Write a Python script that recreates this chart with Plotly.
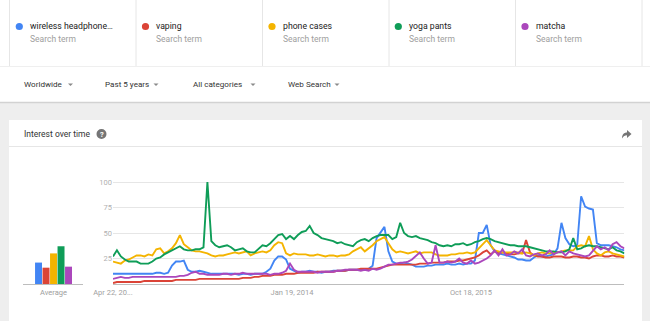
import plotly.graph_objects as go
import pandas as pd

W, H = 650, 321

# ---------------- data ----------------
TERMS = ["wireless headphone…", "vaping", "phone cases", "yoga pants", "matcha"]
COLORS = ["#4285f4", "#db4437", "#f4b400", "#0f9d58", "#ab47bc"]
DATES = pd.date_range("2012-04-22", periods=131, freq="14D")

wireless = [10, 10, 10, 10, 10, 10, 10, 10, 10, 10, 10, 11, 11, 10,
            11, 18, 22, 22, 23, 14,
            12, 12, 13, 12, 11, 10, 10, 10, 10, 10,
            10, 10, 9, 10, 10, 9, 10, 10, 10, 12,
            15, 23, 27, 27, 24, 15, 13, 11, 12, 12,
            13, 12, 12, 11, 12, 12, 13, 13, 13, 13,
            14, 14, 14, 14, 14, 15, 18, 45, 50, 56,
            32, 22, 20, 20, 21, 20, 19, 17, 17, 17,
            18, 18, 19, 19, 19, 20, 19, 19, 20, 19,
            20, 20, 23, 50, 50, 58, 38, 32, 30, 29,
            28, 27, 26, 24, 24, 23, 23, 26, 28, 27,
            27, 28, 29, 35, 60, 45, 39, 37, 38, 86,
            76, 74, 73, 40, 38, 38, 38, 37, 36, 34, 33]

vaping = [1, 2, 2, 2, 2, 2, 2, 2, 3, 3,
          3, 3, 3, 3, 3, 3, 4, 4, 4, 4,
          4, 4, 5, 5, 5, 5, 5, 5, 5, 5,
          5, 5, 5, 6, 6, 6, 7, 7, 8, 8,
          8, 9, 9, 9, 10, 10, 10, 11, 11, 11,
          11, 11, 12, 12, 12, 12, 12, 13, 13, 13,
          14, 14, 14, 15, 15, 15, 15, 15, 16, 17,
          18, 19, 19, 19, 19, 19, 19, 19, 20, 20,
          20, 21, 21, 21, 21, 22, 22, 22, 23, 23,
          24, 25, 26, 28, 31, 33, 29, 32, 30, 31,
          30, 29, 29, 30, 30, 43, 31, 28, 27, 27,
          26, 26, 27, 27, 27, 26, 26, 27, 27, 26,
          26, 25, 27, 28, 28, 27, 27, 28, 27, 27, 26]

phone_cases = [22, 21, 20, 23, 24, 26, 28, 28, 27, 29,
               28, 34, 35, 30, 32, 35, 40, 48, 39, 36,
               33, 32, 32, 31, 30, 28, 27, 28, 28, 29,
               30, 31, 30, 31, 32, 28, 30, 31, 32, 31,
               33, 38, 41, 40, 30, 28, 30, 29, 29, 29,
               28, 28, 29, 28, 27, 28, 28, 27, 28, 28,
               29, 32, 34, 36, 32, 35, 38, 42, 44, 46,
               40, 34, 31, 32, 31, 30, 31, 32, 30, 31,
               31, 31, 29, 28, 28, 28, 29, 29, 30, 30,
               31, 30, 31, 35, 40, 43, 38, 33, 32, 31,
               31, 31, 31, 31, 30, 31, 30, 28, 30, 31,
               30, 30, 31, 31, 32, 33, 33, 33, 37, 38,
               37, 47, 34, 30, 28, 31, 32, 30, 29, 28, 27]

yoga_pants = [27, 33, 27, 24, 22, 22, 22, 20, 20, 20,
              22, 25, 26, 29, 31, 33, 35, 37, 34, 33,
              33, 34, 34, 36, 100, 42, 38, 36, 37, 38,
              36, 33, 34, 35, 32, 31, 31, 35, 38, 37,
              40, 44, 48, 49, 44, 47, 44, 48, 51, 52,
              57, 50, 48, 45, 44, 43, 42, 40, 41, 39,
              38, 37, 41, 43, 44, 42, 45, 47, 48, 48,
              48, 44, 46, 60, 50, 47, 46, 47, 45, 44,
              43, 41, 40, 38, 37, 38, 37, 39, 39, 40,
              38, 39, 41, 42, 44, 45, 44, 42, 41, 40,
              39, 38, 38, 37, 37, 37, 36, 35, 34, 33,
              32, 32, 32, 31, 31, 32, 34, 45, 34, 35,
              37, 38, 37, 37, 36, 35, 34, 36, 33, 32, 30]

matcha = [5, 6, 7, 6, 6, 7, 7, 7, 7, 7,
          7, 7, 7, 7, 7, 7, 7, 8, 8, 9,
          11, 12, 10, 10, 9, 9, 9, 9, 10, 10,
          9, 10, 10, 11, 10, 10, 10, 10, 10, 10,
          9, 10, 10, 11, 13, 20, 14, 12, 12, 12,
          12, 12, 11, 12, 12, 12, 12, 13, 13, 14,
          14, 14, 14, 13, 14, 13, 15, 14, 15, 17,
          19, 19, 20, 21, 21, 22, 24, 28, 31, 25,
          20, 21, 38, 21, 21, 22, 21, 22, 25, 21,
          20, 23, 20, 21, 23, 25, 28, 33, 28, 34,
          28, 29, 32, 30, 34, 28, 27, 29, 30, 28,
          29, 33, 29, 31, 32, 28, 32, 30, 29, 28,
          27, 28, 32, 37, 34, 36, 33, 39, 41, 37, 35]

AVERAGES = [21, 16, 30, 37, 17]

X_TICK_DATES = ["2012-04-22", "2014-01-19", "2015-10-18"]
X_TICK_TEXT = ["Apr 22, 20...", "Jan 19, 2014", "Oct 18, 2015"]
Y_TICKS = [25, 50, 75, 100]
FILTERS = ["Worldwide", "Past 5 years", "All categories", "Web Search"]

SERIES = [wireless, vaping, phone_cases, yoga_pants, matcha]

# ---------------- helpers ----------------
FONT = "Roboto, Arial, sans-serif"


def px(x):
    return x / W


def py(y):
    return 1 - y / H


def path(points, close=True):
    s = "M " + " L ".join(f"{px(x):.5f},{py(y):.5f}" for x, y in points)
    return s + (" Z" if close else "")


fig = go.Figure()

for name, vals, col in zip(TERMS, SERIES, COLORS):
    fig.add_trace(go.Scatter(x=DATES, y=vals, mode="lines", name=name,
                             line=dict(color=col, width=1.9),
                             xaxis="x", yaxis="y", showlegend=False))

fig.add_trace(go.Bar(x=list(range(len(AVERAGES))), y=AVERAGES,
                     marker=dict(color=COLORS, line=dict(width=0)),
                     width=0.93, xaxis="x2", yaxis="y2", showlegend=False))

y_dom = [1 - 286.04 / H, 1 - 177.92 / H]

shapes = []
annots = []

# top white band + shadow
shapes.append(dict(type="rect", xref="paper", yref="paper", x0=0, x1=1,
                   y0=py(102), y1=1, fillcolor="white", line_width=0, layer="below"))
shapes.append(dict(type="line", xref="paper", yref="paper", x0=0, x1=1,
                   y0=py(102.5), y1=py(102.5), line=dict(color="#d2d2d2", width=1.5), layer="below"))
shapes.append(dict(type="line", xref="paper", yref="paper", x0=0, x1=1,
                   y0=py(66.5), y1=py(66.5), line=dict(color="#efefef", width=1), layer="below"))
for sx in [9.5, 136, 262.5, 389, 515.5, 642]:
    shapes.append(dict(type="line", xref="paper", yref="paper", x0=px(sx), x1=px(sx),
                       y0=py(0), y1=py(66), line=dict(color="#e6e6e6", width=1), layer="below"))

# card
shapes.append(dict(type="rect", xref="paper", yref="paper", x0=px(9), x1=px(642),
                   y0=0, y1=py(120), fillcolor="white", line_width=0, layer="below"))
shapes.append(dict(type="line", xref="paper", yref="paper", x0=px(9), x1=px(642),
                   y0=py(146.5), y1=py(146.5), line=dict(color="#e6e6e6", width=1), layer="below"))

# legend chips
dot_x = [19.3, 145.5, 272, 398.3, 525]
text_x = [29, 155, 282, 408, 535]
for dx, tx, name, col in zip(dot_x, text_x, TERMS, COLORS):
    r = 3.6
    shapes.append(dict(type="circle", xref="paper", yref="paper",
                       x0=px(dx - r), x1=px(dx + r), y0=py(26.5 + r), y1=py(26.5 - r),
                       fillcolor=col, line_width=0))
    annots.append(dict(x=px(tx), y=py(26), xref="paper", yref="paper", text=name,
                       showarrow=False, xanchor="left", yanchor="middle", borderpad=0,
                       font=dict(family=FONT, size=8.7, color="#212121")))
    annots.append(dict(x=px(tx), y=py(39.5), xref="paper", yref="paper", text="Search term",
                       showarrow=False, xanchor="left", yanchor="middle", borderpad=0,
                       font=dict(family=FONT, size=8.5, color="#9e9e9e")))

# filters
f_x = [23, 104, 192, 287]
f_arrow = [70.5, 156, 253, 337]
for fx, fa, lab in zip(f_x, f_arrow, FILTERS):
    annots.append(dict(x=px(fx), y=py(84.5), xref="paper", yref="paper", text=lab,
                       showarrow=False, xanchor="left", yanchor="middle", borderpad=0,
                       font=dict(family=FONT, size=8.1, color="#333333")))
    shapes.append(dict(type="path", xref="paper", yref="paper",
                       path=path([(fa - 2.5, 83.5), (fa + 2.5, 83.5), (fa, 86)]),
                       fillcolor="#8a8a8a", line_width=0))

# card header
annots.append(dict(x=px(23), y=py(133.5), xref="paper", yref="paper", text="Interest over time",
                   showarrow=False, xanchor="left", yanchor="middle", borderpad=0,
                   font=dict(family=FONT, size=8.5, color="#333333")))
shapes.append(dict(type="circle", xref="paper", yref="paper",
                   x0=px(96.5), x1=px(106.5), y0=py(139), y1=py(129),
                   fillcolor="#757575", line_width=0))
annots.append(dict(x=px(101.5), y=py(134.2), xref="paper", yref="paper", text="<b>?</b>",
                   showarrow=False, xanchor="center", yanchor="middle", borderpad=0,
                   font=dict(family=FONT, size=7.5, color="white")))
shapes.append(dict(type="path", xref="paper", yref="paper",
                   path=("M {a},{b} C {c},{d} {e},{f} {g},{h} L {g},{i} L {j},{k} L {g},{l} L {g},{m} "
                         "C {n},{m} {o},{p} {a},{b} Z").format(
                       a=px(622), b=py(138.5), c=px(622), d=py(134.5), e=px(624), f=py(132.5),
                       g=px(627), h=py(132.5), i=py(130), j=px(631.5), k=py(134),
                       l=py(138), m=py(135.3), n=px(625), o=px(623.3), p=py(136)),
                   fillcolor="#757575", line_width=0))

fig.update_layout(
    width=W, height=H,
    margin=dict(l=0, r=0, t=0, b=0, pad=0, autoexpand=False),
    paper_bgcolor="#eeeeee",
    plot_bgcolor="rgba(0,0,0,0)",
    font=dict(family=FONT),
    shapes=shapes,
    annotations=annots,
    showlegend=False,
    xaxis=dict(domain=[113 / W, 624.4 / W], type="date",
               range=[DATES[0], DATES[-1]],
               tickvals=X_TICK_DATES, ticktext=X_TICK_TEXT,
               showgrid=False, zeroline=False, showline=False, ticks="",
               tickfont=dict(family=FONT, size=7.5, color="#a0a0a0"),
               anchor="y", fixedrange=True, automargin=False),
    yaxis=dict(domain=y_dom, range=[-2, 104], tickvals=Y_TICKS,
               showgrid=True, gridcolor="#e6e6e6", gridwidth=1,
               zeroline=True, zerolinecolor="#bdbdbd", zerolinewidth=1,
               showline=False, ticks="",
               tickfont=dict(family=FONT, size=7.5, color="#b0b0b0"),
               anchor="x", fixedrange=True, automargin=False),
    xaxis2=dict(domain=[23 / W, 83 / W], range=[-2.07, 5.93],
                tickvals=[2], ticktext=["Average"],
                showgrid=False, zeroline=False, showline=False, ticks="",
                tickfont=dict(family=FONT, size=7.5, color="#9e9e9e"),
                anchor="y2", fixedrange=True, automargin=False),
    yaxis2=dict(domain=y_dom, range=[-2, 104], showticklabels=False,
                showgrid=False, zeroline=True, zerolinecolor="#bdbdbd", zerolinewidth=1,
                showline=False, ticks="", anchor="x2", fixedrange=True, automargin=False),
)

fig.write_html("out.html")
